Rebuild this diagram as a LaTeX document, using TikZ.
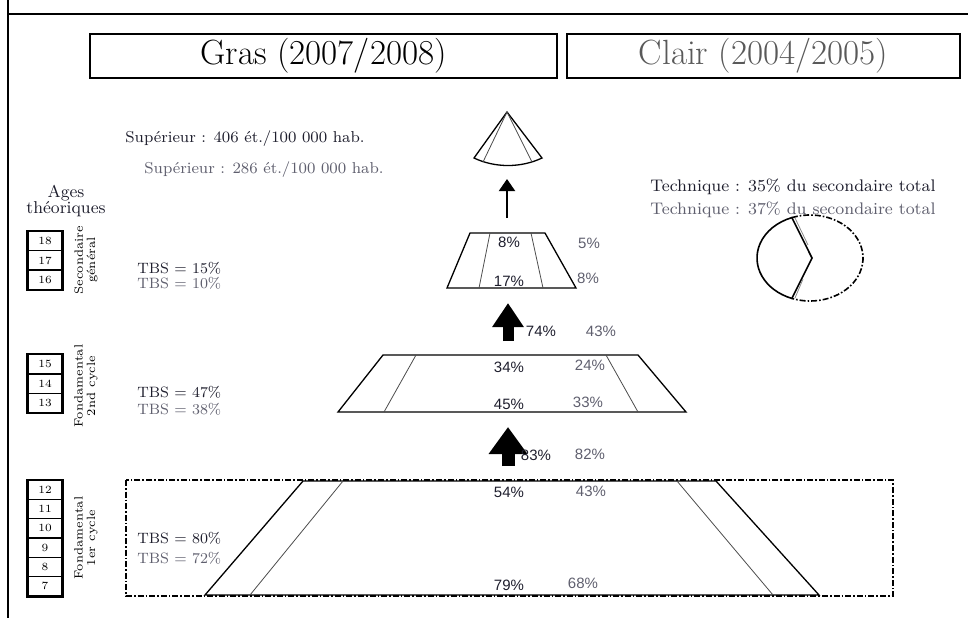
\documentclass[tikz,border=0pt]{standalone}
\usepackage{fontspec}
\newfontfamily\pctfont{Liberation Sans}
\usetikzlibrary{arrows.meta,positioning,calc}
\definecolor{grascol}{RGB}{30,30,45}
\definecolor{claircol}{RGB}{95,95,110}
\tikzset{%
  titlebox/.style  = {draw, line width=0.8pt, minimum height=22pt,%
                      inner sep=0pt, font=\fontsize{17.5}{20}\selectfont},%
  agebox/.style    = {draw, line width=0.6pt, minimum width=17pt,%
                      minimum height=9.6pt, inner sep=0pt,%
                      font=\fontsize{5.5}{6}\selectfont},%
  cyclelab/.style  = {rotate=90, align=center, inner sep=0pt,%
                      font=\fontsize{6}{6.2}\selectfont},%
  tbs/.style       = {anchor=west, inner sep=0pt, font=\fontsize{7.5}{9}\selectfont},%
  info/.style      = {inner sep=0pt, font=\fontsize{8.4}{9}\selectfont},%
  pct/.style       = {inner sep=0pt, font=\pctfont\fontsize{7.5}{8}\selectfont},%
  gras/.style      = {text=grascol},%
  clair/.style     = {text=claircol},%
  levelline/.style = {line width=0.65pt, line join=miter},%
  innerline/.style = {line width=0.4pt, black!70},%
  dashdot/.style   = {line width=0.8pt, dash pattern=on 3pt off 1pt on 0.8pt off 1pt},%
  bigarrow/.style  = {line width=5.5pt, -{Triangle[width=15pt,length=12pt]}}%
}
\begin{document}
\begin{tikzpicture}[x=0.5pt, y=-0.5pt]
	\useasboundingbox (0,0) rectangle (968,618);
	% frame
	\draw[line width=0.7pt] (8,0) -- (8,618);
	\draw[line width=0.7pt] (8,14) -- (968,14);
	% titles
	\node (gras) [titlebox, minimum width=233.5pt] at (323.5,56) {Gras (2007/2008)};
	\node (clair) [titlebox, minimum width=196.5pt, text=black!65] at (763.5,56) {Clair (2004/2005)};

	% superieur
	\coordinate (cone-top) at (507,112);
	\coordinate (cone-l) at (474,158);
	\coordinate (cone-r) at (542,158);
	\draw[levelline] (cone-top) -- (cone-l) .. controls (495,168) and (521,168) .. (cone-r) -- cycle;
	\draw[innerline] (cone-top) -- (483,162);
	\draw[innerline] (cone-top) -- (532,162);
	\node (sup-g) [info, gras, anchor=west, font=\fontsize{7.9}{9}\selectfont] at (125,139) {Supérieur : 406 ét./100 000 hab.};
	\node (sup-c) [info, clair, anchor=west, font=\fontsize{7.9}{9}\selectfont] at (144,170) {Supérieur : 286 ét./100 000 hab.};
	\coordinate (a0-tail) at (507,218);
	\coordinate (a0-tip) at (507,179);
	\draw[line width=1pt, -{Triangle[width=8pt,length=6pt]}] (a0-tail) -- (a0-tip);

	% secondaire general
	\coordinate (s-tl) at (470,233);
	\coordinate (s-tr) at (545,233);
	\coordinate (s-br) at (576,288);
	\coordinate (s-bl) at (447,288);
	\draw[levelline] (s-tl) -- (s-tr) -- (s-br) -- (s-bl) -- cycle;
	\draw[innerline] (490,233) -- (479,288);
	\draw[innerline] (531,233) -- (543,288);
	\node (s-g1) [pct, gras] at (509,242) {8\%};
	\node (s-g2) [pct, gras] at (509,281) {17\%};
	\node (s-c1) [pct, clair] at (589,243) {5\%};
	\node (s-c2) [pct, clair] at (588,278) {8\%};

	% technique
	\node (tech-g) [info, gras] at (793,187) {Technique : 35\% du secondaire total};
	\node (tech-c) [info, clair, below=3pt of tech-g] {Technique : 37\% du secondaire total};
	\coordinate (pie-c) at (810,258);
	\coordinate (pie-m) at (812,258);
	\draw[line width=0.8pt] (pie-c) ++(110:53 and 43)
		arc[start angle=110, end angle=250, x radius=53, y radius=43] -- (pie-m) -- cycle;
	\draw[dashdot] (pie-c) ++(250:53 and 43)
		arc[start angle=250, end angle=470, x radius=53, y radius=43];
	\draw[innerline, black!45] (795,218) -- (808,245);
	\draw[innerline, black!45] (795,298) -- (803,279);

	% arrow to secondaire
	\coordinate (a1-tail) at (508,341);
	\coordinate (a1-tip) at (508,303);
	\draw[bigarrow] (a1-tail) -- (a1-tip);
	\node (a1-g) [pct, gras] at (541,331) {74\%};
	\node (a1-c) [pct, clair] at (601,331) {43\%};

	% fondamental 2nd cycle
	\coordinate (f2-tl) at (383,355);
	\coordinate (f2-tr) at (638,355);
	\coordinate (f2-br) at (686,412);
	\coordinate (f2-bl) at (338,412);
	\draw[levelline] (f2-tl) -- (f2-tr) -- (f2-br) -- (f2-bl) -- cycle;
	\draw[innerline] (416,355) -- (384,412);
	\draw[innerline] (606,355) -- (638,412);
	\node (f2-g1) [pct, gras] at (509,367) {34\%};
	\node (f2-c1) [pct, clair] at (590,365) {24\%};
	\node (f2-g2) [pct, gras] at (509,404) {45\%};
	\node (f2-c2) [pct, clair] at (588,402) {33\%};

	% arrow to 2nd cycle
	\coordinate (a2-tail) at (508,466);
	\coordinate (a2-tip) at (508,427);
	\draw[bigarrow, line width=6.5pt, -{Triangle[width=18.5pt,length=13.5pt]}] (a2-tail) -- (a2-tip);
	\node (a2-g) [pct, gras] at (536,455) {83\%};
	\node (a2-c) [pct, clair] at (590,454) {82\%};

	% fondamental 1er cycle
	\draw[dashdot] (126,480) rectangle (893,596);
	\coordinate (f1-tl) at (303,481);
	\coordinate (f1-tr) at (716,481);
	\coordinate (f1-br) at (819,595);
	\coordinate (f1-bl) at (205,595);
	\draw[levelline] (f1-tl) -- (f1-tr) -- (f1-br) -- (f1-bl) -- cycle;
	\draw[innerline] (343,481) -- (250,595);
	\draw[innerline] (677,481) -- (773,595);
	\node (f1-g1) [pct, gras] at (509,492) {54\%};
	\node (f1-c1) [pct, clair] at (591,491) {43\%};
	\node (f1-g2) [pct, gras] at (509,585) {79\%};
	\node (f1-c2) [pct, clair] at (583,583) {68\%};

	% ages theoriques
	\node (ages) [info, gras, align=center, font=\fontsize{8.6}{8.4}\selectfont] at (66,201) {Ages\\théoriques};
	\foreach \a [count=\i] in {18,17,16}
		\node (age-\a) [agebox] at (45,{222+19.2*\i}) {\a};
	\foreach \a [count=\i] in {15,14,13}
		\node (age-\a) [agebox] at (45,{345+19.3*\i}) {\a};
	\foreach \a [count=\i] in {12,11,10,9,8,7}
		\node (age-\a) [agebox] at (45,{470.5+19.3*\i}) {\a};
	\draw[line width=1pt] (age-18.north west) rectangle (age-16.south east);
	\draw[line width=1pt] (age-15.north west) rectangle (age-13.south east);
	\draw[line width=1pt] (age-12.north west) rectangle (age-7.south east);
	\node (lab-s) [cyclelab] at (86,260) {Secondaire\\général};
	\node (lab-f2) [cyclelab] at (86,386) {Fondamental\\2nd cycle};
	\node (lab-f1) [cyclelab] at (86,538) {Fondamental\\1er cycle};

	% TBS
	\node (tbs-s-g) [tbs, gras] at (137,268) {TBS = 15\%};
	\node (tbs-s-c) [tbs, clair] at (137,283) {TBS = 10\%};
	\node (tbs-f2-g) [tbs, gras] at (137,392) {TBS = 47\%};
	\node (tbs-f2-c) [tbs, clair] at (137,409) {TBS = 38\%};
	\node (tbs-f1-g) [tbs, gras] at (137,538) {TBS = 80\%};
	\node (tbs-f1-c) [tbs, clair] at (137,558) {TBS = 72\%};
\end{tikzpicture}
\end{document}
